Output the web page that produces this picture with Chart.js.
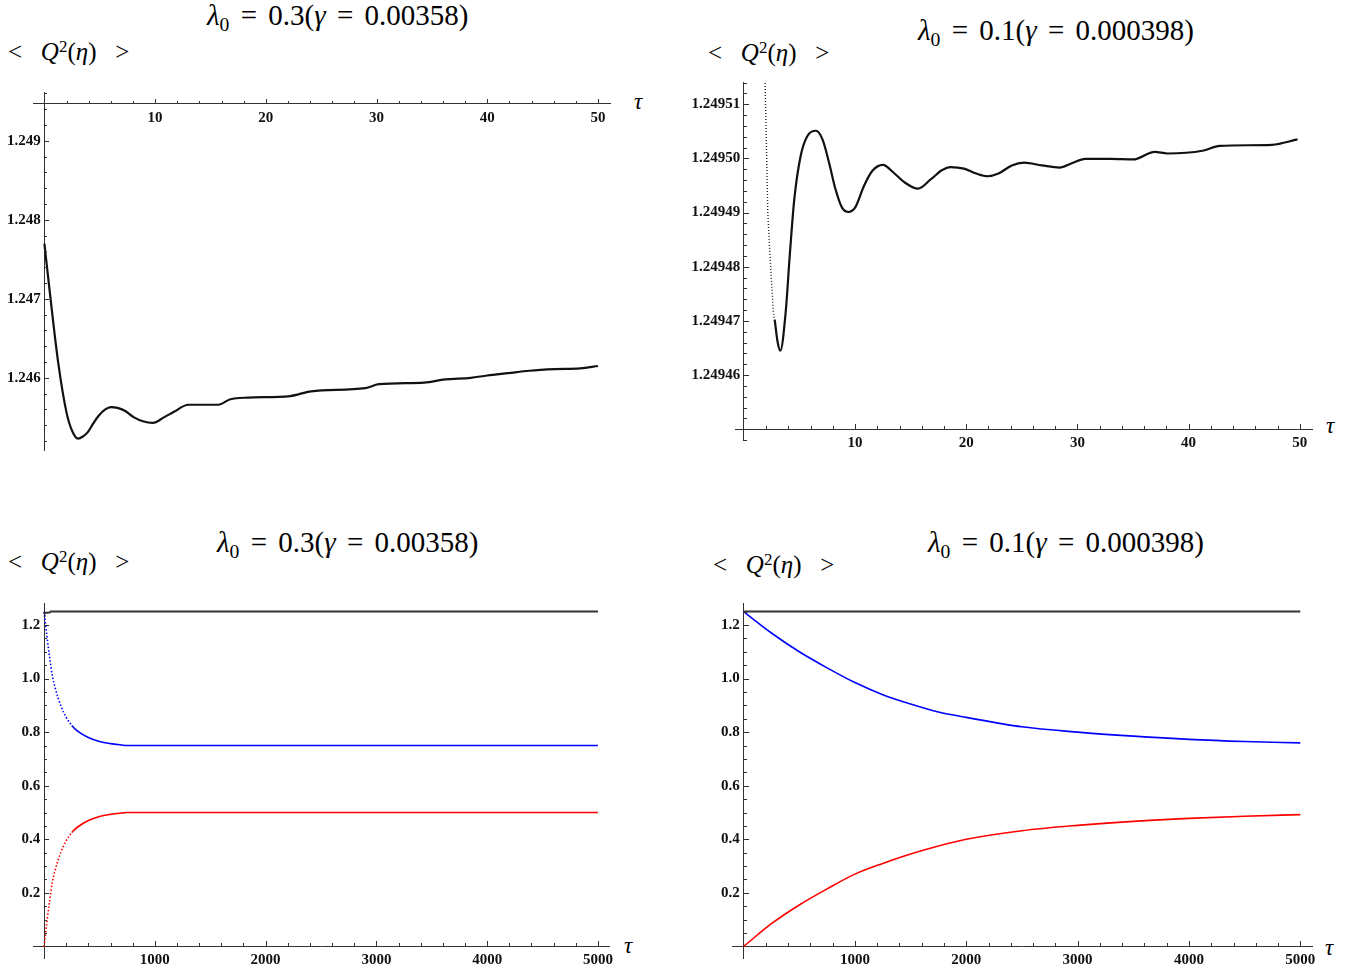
<!DOCTYPE html>
<html>
<head>
<meta charset="utf-8">
<script src="https://cdn.jsdelivr.net/npm/chart.js@4.4.0/dist/chart.umd.min.js"></script>
<style>
  body { margin: 0; background: #fff; width: 1364px; height: 975px; position: relative; overflow: hidden; }
  canvas { position: absolute; }
  .txt { position: absolute; white-space: nowrap; color: #000; font-family: "Liberation Serif", serif; line-height: 1; }
  .title { font-size: 29px; }
  .eq { margin: 0 4px; }
  .ylab { font-size: 25px; }
  .tau { font-size: 23px; font-style: italic; }
  .sub { font-size: 0.68em; position: relative; top: 0.3em; }
  .sup { font-size: 0.68em; position: relative; top: -0.45em; }
</style>
</head>
<body>

<div class="txt title" style="left:207px;top:1px"><i>&lambda;</i><span class="sub">0</span> <span class="eq">=</span> 0.3(<i>&gamma;</i> <span class="eq">=</span> 0.00358)</div>
<div class="txt ylab" style="left:8px;top:39px">&lt;&ensp; <i>Q</i><span class="sup">2</span>(<i>&eta;</i>)&ensp; &gt;</div>
<div class="txt tau" style="left:634px;top:90px">&tau;</div>
<canvas id="c1" width="660" height="400" style="left:0;top:80px"></canvas>

<div class="txt title" style="left:918px;top:16px"><i>&lambda;</i><span class="sub">0</span> <span class="eq">=</span> 0.1(<i>&gamma;</i> <span class="eq">=</span> 0.000398)</div>
<div class="txt ylab" style="left:708px;top:40px">&lt;&ensp; <i>Q</i><span class="sup">2</span>(<i>&eta;</i>)&ensp; &gt;</div>
<div class="txt tau" style="left:1326px;top:414px">&tau;</div>
<canvas id="c2" width="684" height="400" style="left:680px;top:70px"></canvas>

<div class="txt title" style="left:217px;top:528px"><i>&lambda;</i><span class="sub">0</span> <span class="eq">=</span> 0.3(<i>&gamma;</i> <span class="eq">=</span> 0.00358)</div>
<div class="txt ylab" style="left:8px;top:549px">&lt;&ensp; <i>Q</i><span class="sup">2</span>(<i>&eta;</i>)&ensp; &gt;</div>
<div class="txt tau" style="left:624px;top:934px">&tau;</div>
<canvas id="c3" width="660" height="385" style="left:0;top:590px"></canvas>

<div class="txt title" style="left:928px;top:528px"><i>&lambda;</i><span class="sub">0</span> <span class="eq">=</span> 0.1(<i>&gamma;</i> <span class="eq">=</span> 0.000398)</div>
<div class="txt ylab" style="left:713px;top:552px">&lt;&ensp; <i>Q</i><span class="sup">2</span>(<i>&eta;</i>)&ensp; &gt;</div>
<div class="txt tau" style="left:1325px;top:936px">&tau;</div>
<canvas id="c4" width="674" height="385" style="left:690px;top:590px"></canvas>

<script>
////data: top left, lambda0 = 0.3, tau 0..50 ////////////////////////////////////
const p1Tau = [0, 0.5, 1.25, 2, 2.5, 3.04, 3.5, 3.9, 4.4, 4.9, 5.5, 6, 6.6, 7.3, 8.1, 8.9, 9.8,
  10.8, 11.7, 13, 15.7, 16.8, 18.4, 22.2, 24.1, 29, 30.2, 34.3, 36.2, 38.5, 40, 41.9, 43.8, 46.1, 48.4, 50];
const p1Q = [1.24770, 1.24707, 1.24619, 1.24556, 1.24533, 1.24523, 1.24526, 1.24531, 1.24542, 1.24552, 1.24560, 1.24563, 1.24562, 1.24558, 1.24550, 1.24545, 1.24543,
  1.24550, 1.24557, 1.24566, 1.24566, 1.24573, 1.24575, 1.24577, 1.24583, 1.24587, 1.24592, 1.24594, 1.24598, 1.24600, 1.24603, 1.24606, 1.24609, 1.24611, 1.24612, 1.24615];
const p1XMajor = [10, 20, 30, 40, 50];
const p1XLabels = ["10", "20", "30", "40", "50"];
const p1YMajor = [1.246, 1.247, 1.248, 1.249];
const p1YLabels = ["1.246", "1.247", "1.248", "1.249"];

////data: top right, lambda0 = 0.1, tau 0..50 ///////////////////////////////////
//sparse (dotted) start of the curve
const p2DotTau = [1.86, 1.91, 2.03, 2.15, 2.30, 2.46, 2.66, 2.77];
const p2DotQ = [1.249525, 1.2495137, 1.249502, 1.249490, 1.249484, 1.249478, 1.2494714, 1.249470];
const p2Tau = [2.77, 3.05, 3.28, 3.75, 4.14, 4.53, 5.1, 5.7, 6.48, 7.07, 7.66, 8.24, 8.83, 9.4, 10.0, 10.8, 11.56, 12.5,
  13.5, 14.5, 15.66, 16.8, 17.8, 18.6, 19.8, 20.9, 21.9, 22.9, 24.1, 25.2, 26.8, 28.4, 29.5, 30.7, 33.0, 35.0,
  36.95, 38.1, 41.25, 42.8, 47.5, 49.8];
const p2Q = [1.2494702, 1.2494659, 1.2494645, 1.2494714, 1.2494825, 1.2494924, 1.2495004, 1.2495041, 1.2495051, 1.2495035, 1.2494992, 1.2494943, 1.2494909, 1.2494901, 1.2494909, 1.2494949, 1.2494977, 1.2494988,
  1.2494973, 1.2494955, 1.2494944, 1.2494961, 1.2494978, 1.2494984, 1.2494981, 1.2494972, 1.2494967, 1.2494972, 1.2494987, 1.2494992, 1.2494987, 1.2494983, 1.2494991, 1.2494999, 1.2494999, 1.2494998,
  1.2495012, 1.2495009, 1.2495014, 1.2495023, 1.2495025, 1.2495035];
const p2XMajor = [10, 20, 30, 40, 50];
const p2XLabels = ["10", "20", "30", "40", "50"];
const p2YMajor = [1.24946, 1.24947, 1.24948, 1.24949, 1.24950, 1.24951];
const p2YLabels = ["1.24946", "1.24947", "1.24948", "1.24949", "1.24950", "1.24951"];

////data: bottom left, lambda0 = 0.3, tau 0..5000 ////////////////////////////////
const p3BlackTau = [0, 3, 50, 60, 5000];
const p3BlackQ = [1.2477, 1.2452, 1.2461, 1.25, 1.25];
const p3Tau = [0, 25, 50, 75, 100, 150, 200, 250, 300, 400, 500, 600, 700, 750, 5000];
const p3Blue = [1.25, 1.16, 1.08, 1.01, 0.965, 0.90, 0.855, 0.825, 0.805, 0.78, 0.765, 0.757, 0.752, 0.75, 0.75];
const p3Red = [0, 0.09, 0.17, 0.24, 0.285, 0.35, 0.395, 0.425, 0.445, 0.47, 0.485, 0.493, 0.498, 0.5, 0.5];
const p3XMajor = [1000, 2000, 3000, 4000, 5000];
const p3XLabels = ["1000", "2000", "3000", "4000", "5000"];
const p3YMajor = [0.2, 0.4, 0.6, 0.8, 1.0, 1.2];
const p3YLabels = ["0.2", "0.4", "0.6", "0.8", "1.0", "1.2"];

////data: bottom right, lambda0 = 0.1, tau 0..5000 ///////////////////////////////
const p4BlackTau = [0, 5000];
const p4BlackQ = [1.25, 1.25];
const p4Tau = [0, 250, 500, 750, 1000, 1250, 1500, 1750, 2000, 2500, 3000, 3500, 4000, 4500, 5000];
const p4Blue = [1.25, 1.17, 1.10, 1.04, 0.985, 0.94, 0.905, 0.875, 0.855, 0.82, 0.80, 0.785, 0.773, 0.765, 0.76];
const p4Red = [0, 0.085, 0.155, 0.215, 0.27, 0.31, 0.345, 0.375, 0.40, 0.432, 0.452, 0.467, 0.478, 0.486, 0.492];
const p4XMajor = [1000, 2000, 3000, 4000, 5000];
const p4XLabels = ["1000", "2000", "3000", "4000", "5000"];
const p4YMajor = [0.2, 0.4, 0.6, 0.8, 1.0, 1.2];
const p4YLabels = ["0.2", "0.4", "0.6", "0.8", "1.0", "1.2"];

////helpers //////////////////////////////////////////////////////////////////////
const pts = (xs, ys) => xs.map((x, i) => ({ x: x, y: ys[i] }));

//all tick positions (minor step) inside [min,max], without the axis crossing
function tickList(min, max, step, skip) {
  let out = [];
  for (let k = Math.ceil(min / step - 1e-9); k * step <= max + 1e-12; k++) {
    let v = k * step;
    if (Math.abs(v - skip) > step / 10) out.push(v);
  }
  return out;
}
function labelFor(v, major, labels, step) {
  for (let i = 0; i < major.length; i++) {
    if (Math.abs(v - major[i]) < step / 10) return labels[i];
  }
  return "";
}

const TEXT_FONT = { family: "Liberation Serif", size: 15, weight: "bold" };

//Mathematica style ticks: pointing into the plot, majors longer
const axisTicks = {
  id: "axisTicks",
  afterDatasetsDraw(chart, args, opts) {
    const ctx = chart.ctx;
    const x = chart.scales.x, y = chart.scales.y;
    const rowX = Math.round(y.getPixelForValue(opts.xAxisAt));
    const colY = Math.round(x.getPixelForValue(opts.yAxisAt));
    ctx.save();
    ctx.strokeStyle = "#333";
    ctx.lineWidth = 1;
    ctx.beginPath();
    x.ticks.forEach(t => {
      const px = Math.round(x.getPixelForValue(t.value)) + 0.5;
      ctx.moveTo(px, rowX);
      ctx.lineTo(px, rowX - (t.label ? 5 : 3));
    });
    y.ticks.forEach(t => {
      const py = Math.round(y.getPixelForValue(t.value)) + 0.5;
      ctx.moveTo(colY, py);
      ctx.lineTo(colY + (t.label ? 5 : 3), py);
    });
    ctx.stroke();
    ctx.restore();
  }
};

function makePanel(id, p) {
  return new Chart(document.getElementById(id), {
    type: "line",
    data: { datasets: p.datasets },
    options: {
      responsive: false,
      animation: false,
      layout: { padding: p.pad },
      elements: { point: { radius: 0 } },
      plugins: {
        legend: { display: false },
        tooltip: { enabled: false },
        axisTicks: { xAxisAt: p.xAxisAt, yAxisAt: p.yAxisAt }
      },
      scales: {
        x: {
          type: "linear",
          min: p.xMin, max: p.xMax,
          position: { y: p.xAxisAt },
          grid: { display: false, drawTicks: false },
          border: { color: "#333", width: 1 },
          afterBuildTicks: s => { s.ticks = tickList(p.xMin, p.xMax, p.xStep, p.yAxisAt).map(v => ({ value: v })); },
          ticks: {
            autoSkip: false, maxRotation: 0, padding: 5, color: "#111", font: TEXT_FONT,
            callback: v => labelFor(v, p.xMajor, p.xLabels, p.xStep)
          }
        },
        y: {
          type: "linear",
          min: p.yMin, max: p.yMax,
          position: { x: p.yAxisAt },
          grid: { display: false, drawTicks: false },
          border: { color: "#333", width: 1 },
          afterBuildTicks: s => { s.ticks = tickList(p.yMin, p.yMax, p.yStep, p.xAxisAt).map(v => ({ value: v })); },
          ticks: {
            autoSkip: false, color: "#111", font: TEXT_FONT,
            //trailing space keeps the right aligned label off the axis
            callback: v => { const l = labelFor(v, p.yMajor, p.yLabels, p.yStep); return l ? l + "\u00a0" : ""; }
          }
        }
      }
    },
    plugins: [axisTicks]
  });
}

const blackLine = { borderColor: "#111", borderWidth: 2.2, cubicInterpolationMode: "monotone", fill: false };

////top left //////////////////////////////////////////////////////////////////////
makePanel("c1", {
  pad: { left: 33, right: 50, top: 12, bottom: 30 },
  xMin: -1.03, xMax: 51.09, yMin: 1.245087, yMax: 1.249618,
  xAxisAt: 1.24947, yAxisAt: 0,
  xStep: 2, yStep: 0.0002,
  xMajor: p1XMajor, xLabels: p1XLabels, yMajor: p1YMajor, yLabels: p1YLabels,
  datasets: [Object.assign({ data: pts(p1Tau, p1Q) }, blackLine)]
});

////top right /////////////////////////////////////////////////////////////////////
makePanel("c2", {
  pad: { left: 55, right: 52, top: 12, bottom: 30 },
  xMin: -0.8, xMax: 51.1, yMin: 1.249448, yMax: 1.2495141,
  xAxisAt: 1.24945, yAxisAt: 0,
  xStep: 2, yStep: 0.000002,
  xMajor: p2XMajor, xLabels: p2XLabels, yMajor: p2YMajor, yLabels: p2YLabels,
  datasets: [
    { data: pts(p2DotTau, p2DotQ), borderColor: "#222", borderWidth: 1.4, borderDash: [1, 2], fill: false },
    Object.assign({ data: pts(p2Tau, p2Q) }, blackLine)
  ]
});

//the steep start of the lambda0 = 0.3 curves is sampled sparsely: dotted
const sparseStart = { borderDash: c => (c.p0.parsed.x < 240 ? [1.5, 2] : undefined) };

////bottom left ///////////////////////////////////////////////////////////////////
makePanel("c3", {
  pad: { left: 33, right: 51, top: 13, bottom: 17 },
  xMin: -100, xMax: 5100, yMin: -0.043, yMax: 1.282,
  xAxisAt: 0, yAxisAt: 0,
  xStep: 200, yStep: 0.05,
  xMajor: p3XMajor, xLabels: p3XLabels, yMajor: p3YMajor, yLabels: p3YLabels,
  datasets: [
    { data: pts(p3BlackTau, p3BlackQ), borderColor: "#333", borderWidth: 2, fill: false },
    { data: pts(p3Tau, p3Blue), borderColor: "#0000ff", borderWidth: 1.6, cubicInterpolationMode: "monotone", segment: sparseStart, fill: false },
    { data: pts(p3Tau, p3Red), borderColor: "#ff0000", borderWidth: 1.6, cubicInterpolationMode: "monotone", segment: sparseStart, fill: false }
  ]
});

////bottom right //////////////////////////////////////////////////////////////////
makePanel("c4", {
  pad: { left: 42, right: 52, top: 13, bottom: 17 },
  xMin: -104, xMax: 5105, yMin: -0.043, yMax: 1.282,
  xAxisAt: 0, yAxisAt: 0,
  xStep: 200, yStep: 0.05,
  xMajor: p4XMajor, xLabels: p4XLabels, yMajor: p4YMajor, yLabels: p4YLabels,
  datasets: [
    { data: pts(p4BlackTau, p4BlackQ), borderColor: "#333", borderWidth: 2, fill: false },
    { data: pts(p4Tau, p4Blue), borderColor: "#0000ff", borderWidth: 1.6, cubicInterpolationMode: "monotone", fill: false },
    { data: pts(p4Tau, p4Red), borderColor: "#ff0000", borderWidth: 1.6, cubicInterpolationMode: "monotone", fill: false }
  ]
});
</script>
</body>
</html>
